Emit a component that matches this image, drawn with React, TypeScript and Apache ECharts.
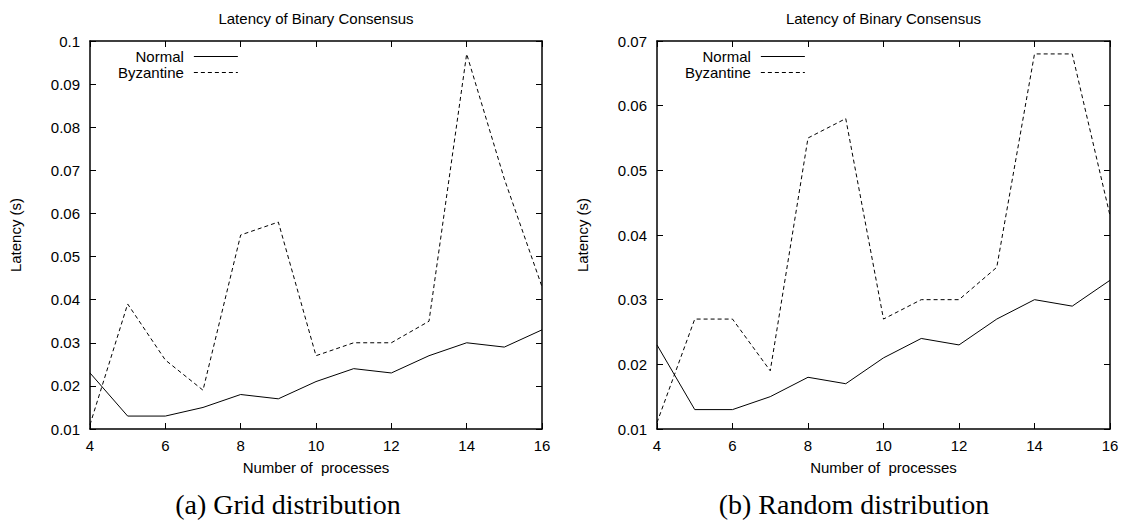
import React, { useEffect, useRef } from "react";
import * as echarts from "echarts";

const processes = [4, 5, 6, 7, 8, 9, 10, 11, 12, 13, 14, 15, 16];
const gridNormal = [0.023, 0.013, 0.013, 0.015, 0.018, 0.017, 0.021, 0.024, 0.023, 0.027, 0.030, 0.029, 0.033];
const gridByzantine = [0.011, 0.039, 0.026, 0.019, 0.055, 0.058, 0.027, 0.030, 0.030, 0.035, 0.097, 0.068, 0.043];
const randomNormal = [0.023, 0.013, 0.013, 0.015, 0.018, 0.017, 0.021, 0.024, 0.023, 0.027, 0.030, 0.029, 0.033];
const randomByzantine = [0.011, 0.027, 0.027, 0.019, 0.055, 0.058, 0.027, 0.030, 0.030, 0.035, 0.068, 0.068, 0.043];
const yMaxes = [0.1, 0.07];
const chartTitle = "Latency of Binary Consensus";
const xName = "Number of  processes";
const yName = "Latency (s)";
const captions = ["(a) Grid distribution", "(b) Random distribution"];
const seriesNames = ["Normal", "Byzantine"];

const SANS = "'Liberation Sans', Arial, Helvetica, sans-serif";
const SERIF = "'Liberation Serif', 'Times New Roman', serif";

export default function App() {
  const ref = useRef<HTMLDivElement>(null);
  useEffect(() => {
    if (!ref.current) return;
    const chart = echarts.init(ref.current, null, { renderer: "svg" });
    const grids = [
      { left: 90, right: 1126 - 542, top: 41, bottom: 526 - 429 },
      { left: 657, right: 1126 - 1110, top: 41, bottom: 526 - 429 },
    ];
    const plotCenters = [316, 883.5];
    const captionCenters = [288, 854];
    const legendLefts = [118, 685];
    const data = [
      [gridNormal, gridByzantine],
      [randomNormal, randomByzantine],
    ];
    const axisLine = { show: true, lineStyle: { color: "#000", width: 1.5 } };
    const axisTick = { show: true, inside: true, length: 6, lineStyle: { color: "#000", width: 1 } };
    const xAxis: any[] = [];
    const yAxis: any[] = [];
    const series: any[] = [];
    const legend: any[] = [];
    const graphic: any[] = [];
    [0, 1].forEach((g) => {
      xAxis.push({
        gridIndex: g, type: "value", min: 4, max: 16, interval: 2, position: "bottom",
        axisLine, axisTick, splitLine: { show: false },
        axisLabel: { margin: 9, fontSize: 15, color: "#000", fontFamily: SANS },
        name: xName, nameLocation: "middle", nameGap: 31,
        nameTextStyle: { fontSize: 15, color: "#000", fontFamily: SANS },
      });
      xAxis.push({
        gridIndex: g, type: "value", min: 4, max: 16, interval: 2, position: "top",
        axisLine, axisTick, splitLine: { show: false }, axisLabel: { show: false },
      });
      yAxis.push({
        gridIndex: g, type: "value", min: 0.01, max: yMaxes[g], interval: 0.01, position: "left",
        axisLine, axisTick, splitLine: { show: false },
        axisLabel: {
          margin: 10, fontSize: 15, color: "#000", fontFamily: SANS,
          formatter: (v: number) => String(Math.round(v * 100) / 100),
        },
        name: yName, nameLocation: "middle", nameGap: 67, nameRotate: 90,
        nameTextStyle: { fontSize: 15, color: "#000", fontFamily: SANS },
      });
      yAxis.push({
        gridIndex: g, type: "value", min: 0.01, max: yMaxes[g], interval: 0.01, position: "right",
        axisLine, axisTick, splitLine: { show: false }, axisLabel: { show: false },
      });
      data[g].forEach((vals, s) => {
        series.push({
          type: "line",
          name: seriesNames[s],
          xAxisIndex: g * 2,
          yAxisIndex: g * 2,
          data: processes.map((p, i) => [p, vals[i]]),
          symbol: "none",
          silent: true,
          lineStyle: { color: "#000", width: 1, type: s === 0 ? "solid" : [4, 3] },
          itemStyle: { color: "#000" },
          emphasis: { disabled: true },
        });
      });
      legend.push({
        orient: "vertical", align: "right", left: legendLefts[g], top: 49, padding: 0,
        itemWidth: 44, itemHeight: 14, itemGap: 1, selectedMode: false,
        data: seriesNames,
        itemStyle: { color: "rgba(0,0,0,0)", borderWidth: 0, opacity: 0 },
        lineStyle: { width: 1, color: "#000" },
        textStyle: { fontSize: 15, color: "#000", fontFamily: SANS, lineHeight: 14, padding: [0, 5, 0, 0] },
      });
      graphic.push({
        type: "text", x: plotCenters[g], y: 18,
        style: { text: chartTitle, align: "center", verticalAlign: "middle", font: `15px ${SANS}`, fill: "#000" },
      });
      graphic.push({
        type: "text", x: captionCenters[g], y: 504,
        style: { text: captions[g], align: "center", verticalAlign: "middle", font: `28px ${SERIF}`, fill: "#000" },
      });
    });
    chart.setOption({
      animation: false,
      backgroundColor: "#fff",
      grid: grids,
      xAxis,
      yAxis,
      series,
      legend,
      graphic,
    });
    return () => chart.dispose();
  }, []);
  return (
    <div
      ref={ref}
      style={{ position: "absolute", left: 0, top: 0, width: 1126, height: 526 }}
    />
  );
}
